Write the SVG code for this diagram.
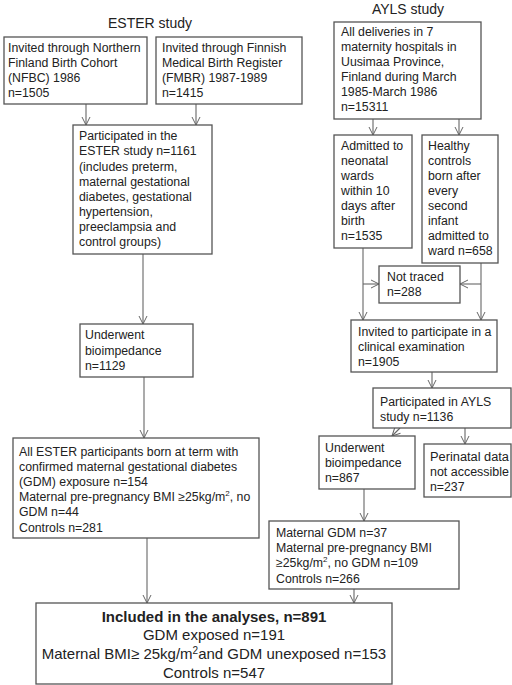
<svg xmlns="http://www.w3.org/2000/svg" width="512" height="685" viewBox="0 0 512 685">
<defs>
<marker id="ah" markerWidth="10" markerHeight="10" refX="9" refY="5" orient="auto" markerUnits="userSpaceOnUse">
<path d="M1,1 L9,5 L1,9" fill="none" stroke="#666" stroke-width="1"/>
</marker>
<style>
rect{fill:#fff;stroke:#555;stroke-width:1.3}
text{font-family:"Liberation Sans",Arial,sans-serif;font-size:12.3px;fill:#222}
.t{font-size:14px}
.f{font-size:15px;text-anchor:middle}
.b{font-weight:bold}
#connectors line,#connectors path{stroke:#666;stroke-width:1.1;fill:none}
.a{marker-end:url(#ah)}
</style>
</defs>
<rect x="0" y="0" width="512" height="685" style="fill:#fff;stroke:none"/>
<text class="t" x="150" y="28" text-anchor="middle">ESTER study</text>
<text class="t" x="408" y="14" text-anchor="middle">AYLS study</text>

<g id="connectors">
<line class="a" x1="86" y1="104" x2="86" y2="125"/>
<line class="a" x1="196" y1="104" x2="196" y2="125"/>
<line class="a" x1="143" y1="254" x2="143" y2="324"/>
<line class="a" x1="144" y1="377" x2="144" y2="438"/>
<line class="a" x1="147" y1="538" x2="147" y2="603"/>
<line class="a" x1="373" y1="119" x2="373" y2="135"/>
<line class="a" x1="459" y1="119" x2="459" y2="135"/>
<line class="a" x1="363" y1="248" x2="363" y2="320"/>
<line class="a" x1="481" y1="263" x2="481" y2="320"/>
<line class="a" x1="363" y1="284" x2="379" y2="284"/>
<line class="a" x1="481" y1="284" x2="460" y2="284"/>
<line class="a" x1="432" y1="372" x2="432" y2="388"/>
<line class="a" x1="400" y1="428" x2="392" y2="436"/>
<line class="a" x1="465" y1="428" x2="465" y2="444"/>
<line class="a" x1="364" y1="489" x2="364" y2="521"/>
<line class="a" x1="354" y1="589" x2="354" y2="603"/>
</g>

<g id="nfbc">
<rect x="4" y="37" width="143" height="67"/>
<text x="8" y="52">Invited through Northern</text>
<text x="8" y="67">Finland Birth Cohort</text>
<text x="8" y="82">(NFBC) 1986</text>
<text x="8" y="97">n=1505</text>
</g>
<g id="fmbr">
<rect x="156" y="37" width="146" height="67"/>
<text x="162" y="52">Invited through Finnish</text>
<text x="162" y="67">Medical Birth Register</text>
<text x="162" y="82">(FMBR) 1987-1989</text>
<text x="162" y="97">n=1415</text>
</g>
<g id="ester-participated">
<rect x="73" y="125" width="139" height="129"/>
<text x="79" y="140">Participated in the</text>
<text x="79" y="155">ESTER study n=1161</text>
<text x="79" y="171">(includes preterm,</text>
<text x="79" y="186">maternal gestational</text>
<text x="79" y="201">diabetes, gestational</text>
<text x="79" y="216">hypertension,</text>
<text x="79" y="231">preeclampsia and</text>
<text x="79" y="246">control groups)</text>
</g>
<g id="ester-bioimp">
<rect x="80" y="324" width="113" height="53"/>
<text x="85" y="339">Underwent</text>
<text x="85" y="355">bioimpedance</text>
<text x="85" y="370">n=1129</text>
</g>
<g id="ester-all">
<rect x="13" y="438" width="246" height="100"/>
<text x="19" y="456">All ESTER participants born at term with</text>
<text x="19" y="471">confirmed maternal gestational diabetes</text>
<text x="19" y="486">(GDM) exposure n=154</text>
<text x="19" y="501">Maternal pre-pregnancy BMI ≥25kg/m<tspan font-size="8" dy="-5">2</tspan><tspan dy="5">, no</tspan></text>
<text x="19" y="516">GDM n=44</text>
<text x="19" y="532">Controls n=281</text>
</g>
<g id="ayls-all">
<rect x="334" y="22" width="147" height="97"/>
<text x="341" y="36">All deliveries in 7</text>
<text x="341" y="51">maternity hospitals in</text>
<text x="341" y="66">Uusimaa Province,</text>
<text x="341" y="81">Finland during March</text>
<text x="341" y="96">1985-March 1986</text>
<text x="341" y="111">n=15311</text>
</g>
<g id="admitted">
<rect x="334" y="135" width="78" height="113"/>
<text x="341" y="150">Admitted to</text>
<text x="341" y="165">neonatal</text>
<text x="341" y="180">wards</text>
<text x="341" y="195">within 10</text>
<text x="341" y="210">days after</text>
<text x="341" y="225">birth</text>
<text x="341" y="240">n=1535</text>
</g>
<g id="healthy">
<rect x="422" y="135" width="76" height="128"/>
<text x="428" y="150">Healthy</text>
<text x="428" y="165">controls</text>
<text x="428" y="180">born after</text>
<text x="428" y="195">every</text>
<text x="428" y="210">second</text>
<text x="428" y="225">infant</text>
<text x="428" y="240">admitted to</text>
<text x="428" y="255">ward n=658</text>
</g>
<g id="not-traced">
<rect x="379" y="266" width="81" height="37"/>
<text x="387" y="281">Not traced</text>
<text x="387" y="296">n=288</text>
</g>
<g id="invited">
<rect x="351" y="320" width="146" height="52"/>
<text x="358" y="336">Invited to participate in a</text>
<text x="358" y="351">clinical examination</text>
<text x="358" y="366">n=1905</text>
</g>
<g id="ayls-participated">
<rect x="373" y="388" width="138" height="40"/>
<text x="380" y="406">Participated in AYLS</text>
<text x="380" y="421">study n=1136</text>
</g>
<g id="ayls-bioimp">
<rect x="319" y="436" width="96" height="53"/>
<text x="325" y="452">Underwent</text>
<text x="325" y="467">bioimpedance</text>
<text x="325" y="482">n=867</text>
</g>
<g id="perinatal">
<rect x="424" y="444" width="87" height="53"/>
<text x="430" y="461" textLength="79" lengthAdjust="spacingAndGlyphs">Perinatal data</text>
<text x="430" y="476" textLength="79" lengthAdjust="spacingAndGlyphs">not accessible</text>
<text x="430" y="491">n=237</text>
</g>
<g id="ayls-groups">
<rect x="269" y="521" width="190" height="68"/>
<text x="276" y="537">Maternal GDM n=37</text>
<text x="276" y="552">Maternal pre-pregnancy BMI</text>
<text x="276" y="567">≥25kg/m<tspan font-size="8" dy="-5">2</tspan><tspan dy="5">, no GDM n=109</tspan></text>
<text x="276" y="583">Controls n=266</text>
</g>
<g id="included">
<rect x="36" y="603" width="356" height="81"/>
<text class="f b" x="214" y="622">Included in the analyses, n=891</text>
<text class="f" x="214" y="640">GDM exposed n=191</text>
<text class="f" x="214" y="659">Maternal BMI≥ 25kg/m<tspan font-size="10" dy="-5">2</tspan><tspan dy="5">and GDM unexposed n=153</tspan></text>
<text class="f" x="214" y="678">Controls n=547</text>
</g>
</svg>
